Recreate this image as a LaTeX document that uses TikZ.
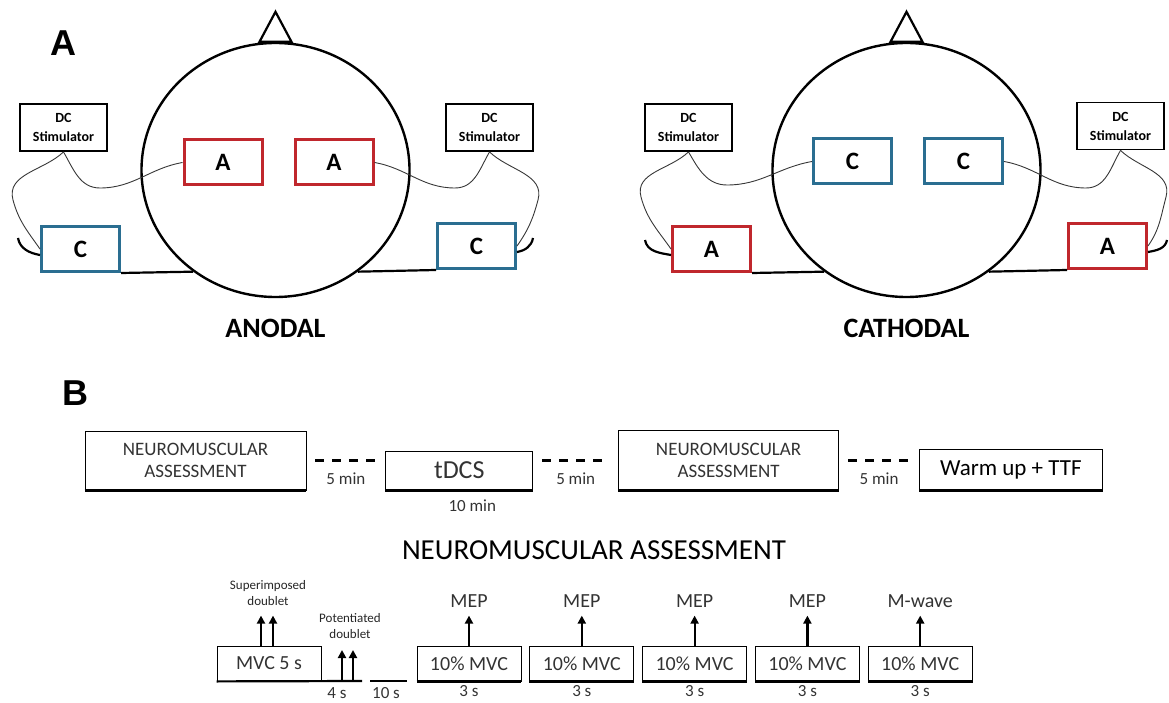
\documentclass[tikz,border=0pt]{standalone}
\usepackage{fontspec}
\setmainfont{Carlito}
\newfontfamily\panelfont{Liberation Sans}
\usepackage{xcolor}
\usepackage{tikz}
\usetikzlibrary{positioning}
\usetikzlibrary{shapes.geometric}
\usetikzlibrary{arrows.meta}

\definecolor{anodered}{RGB}{192,39,45}
\definecolor{cathodeblue}{RGB}{42,110,145}
\definecolor{wiregray}{RGB}{55,55,55}

\tikzset{
  panel/.style={font=\panelfont\bfseries\fontsize{36}{40}\selectfont},
  head/.style={ellipse,draw,line width=2.4pt,minimum width=268pt,minimum height=254pt,inner sep=0pt},
  nose/.style={line width=2.2pt,line join=miter},
  stim/.style={draw,line width=1.8pt,fill=white,minimum width=87pt,minimum height=47pt,align=center,inner sep=1pt,font=\bfseries\fontsize{14}{19}\selectfont},
  anode/.style={draw=anodered,line width=3pt,fill=white,minimum width=78pt,minimum height=45pt,font=\bfseries\fontsize{25}{28}\selectfont},
  cathode/.style={anode,draw=cathodeblue},
  wire/.style={wiregray,line width=0.9pt},
  neck/.style={line width=2.2pt},
  montage/.style={font=\bfseries\fontsize{28}{30}\selectfont},
  phase/.style={draw,line width=0.8pt,align=center,text=black!80,font=\fontsize{19}{22}\selectfont},
  gapline/.style={line width=2.4pt,dash pattern=on 9pt off 8pt,shorten <=9pt,shorten >=10pt},
  gaplabel/.style={font=\fontsize{17}{20}\selectfont,text=black!80},
  trial/.style={draw,line width=0.8pt,minimum width=104pt,minimum height=35pt,inner sep=0pt,text=black!80,font=\fontsize{20}{22}\selectfont},
  trialfont/.style={font=\fontsize{20}{22}\selectfont,text=black!80},
  pulse/.style={line width=2.2pt,-{Triangle[length=8pt,width=8pt]}},
  floorline/.style={line width=2.2pt},
  tinytext/.style={align=center,text=black!85,font=\fontsize{13}{16}\selectfont}
}

\begin{document}
\begin{tikzpicture}[x=1pt,y=1pt]
\useasboundingbox (0,0) rectangle (1169,702);

% A: anodal montage
\node[panel] (lblA) at (63,659) {A};
\node[head] (headL) at (275.5,532) {};
\draw[nose] ([xshift=-16pt]headL.north) -- ([yshift=30pt]headL.north) -- ([xshift=16pt]headL.north) -- cycle;
\node[anode] (aL1) at (223,539.5) {A};
\node[anode,right=30pt of aL1] (aL2) {A};
\node[cathode] (cL1) at (80.5,453) {C};
\node[cathode] (cL2) at (476.5,456) {C};
\node[stim] (dcL1) at (63.5,574.5) {DC\\Stimulator};
\node[stim] (dcL2) at (489.5,574.5) {DC\\Stimulator};
\node[montage] (anodal) at (275.5,374) {ANODAL};
\draw[wire] (dcL1.south) to[out=-60,in=180] (100,514) to[out=0,in=190] (aL1.west);
\draw[wire] (dcL1.south) to[out=-136,in=105] (13,502) to[out=-75,in=125] (cL1.west);
\draw[wire] (aL2.east) to[out=-10,in=180] (455,514) to[out=0,in=-120] (dcL2.south);
\draw[wire] (dcL2.south) to[out=-44,in=75] (538,502) to[out=-105,in=55] (cL2.east);
\draw[neck] (18,464) to[out=-80,in=170] ([yshift=-6pt]cL1.west);
\draw[neck] (533,464) to[out=-100,in=10] ([yshift=-6pt]cL2.east);
\draw[neck] (cL1.south east) -- (headL.231);
\draw[neck] (headL.-51) -- (cL2.south west);

% A: cathodal montage
\node[head] (headR) at (906.5,532) {};
\draw[nose] ([xshift=-16pt]headR.north) -- ([yshift=30pt]headR.north) -- ([xshift=16pt]headR.north) -- cycle;
\node[cathode] (cR1) at (852.5,540.5) {C};
\node[cathode,right=30pt of cR1] (cR2) {C};
\node[anode] (aR1) at (711.5,453) {A};
\node[anode] (aR2) at (1107.5,456) {A};
\node[stim] (dcR1) at (688.5,574.5) {DC\\Stimulator};
\node[stim] (dcR2) at (1120.5,576) {DC\\Stimulator};
\node[montage] (cathodal) at (906.5,374) {CATHODAL};
\draw[wire] (dcR1.south) to[out=-60,in=180] (727,517) to[out=0,in=190] (cR1.west);
\draw[wire] (dcR1.south) to[out=-136,in=105] (641,505) to[out=-75,in=125] (aR1.west);
\draw[wire] (cR2.east) to[out=-10,in=180] (1086,514) to[out=0,in=-120] (dcR2.south);
\draw[wire] (dcR2.south) to[out=-44,in=75] (1166,505) to[out=-105,in=55] (aR2.east);
\draw[neck] (645,462) to[out=-80,in=170] ([yshift=-6pt]aR1.west);
\draw[neck] (1167,462) to[out=-100,in=10] ([yshift=-6pt]aR2.east);
\draw[neck] (aR1.south east) -- (headR.231);
\draw[neck] (headR.-51) -- (aR2.south west);

% B: protocol
\node[panel] (lblB) at (75,309) {B};
\node[phase,minimum width=221pt,minimum height=59pt] (pre) at (195.5,241.5) {NEUROMUSCULAR\\ASSESSMENT};
\node[phase,minimum width=147pt,minimum height=39pt,font=\fontsize{26}{28}\selectfont,right=79pt of pre.south east,anchor=south west] (tdcs) {tDCS};
\node[phase,minimum width=220pt,minimum height=60pt,right=85pt of tdcs.south east,anchor=south west] (post) {NEUROMUSCULAR\\ASSESSMENT};
\node[phase,minimum width=183pt,minimum height=41pt,font=\fontsize{23}{26}\selectfont,text=black,right=80pt of post.south east,anchor=south west] (ttf) {Warm up + TTF};
\draw[floorline] (pre.south west) -- (pre.south east);
\draw[floorline] (tdcs.south west) -- (tdcs.south east);
\draw[floorline] (post.south west) -- (post.south east);
\draw[floorline] (ttf.south west) -- (ttf.south east);
\draw[gapline] (pre.east) -- (pre.east -| tdcs.west) node[midway,below=8pt,gaplabel] {5 min};
\draw[gapline] (pre.east -| tdcs.east) -- (pre.east -| post.west) node[midway,below=8pt,gaplabel] {5 min};
\draw[gapline] (pre.east -| post.east) -- (pre.east -| ttf.west) node[midway,below=8pt,gaplabel] {5 min};
\node[gaplabel,below=6pt of tdcs.south,xshift=13pt] (tdcstime) {10 min};

% neuromuscular assessment sequence
\node[font=\fontsize{29}{32}\selectfont] (seqtitle) at (594,152) {NEUROMUSCULAR ASSESSMENT};
\node[trial] (mvc) at (269,38.5) {MVC 5 s};
\node[trial] (t1) at (469,38.5) {10\% MVC};
\node[trial,right=8pt of t1] (t2) {10\% MVC};
\node[trial,right=8pt of t2] (t3) {10\% MVC};
\node[trial,right=8pt of t3] (t4) {10\% MVC};
\node[trial,right=8pt of t4] (t5) {10\% MVC};
\coordinate (mvcEnd) at (362,21);
\coordinate (restL) at (370,21);
\coordinate (restR) at (407,21);
\coordinate (potA) at (342,21);
\coordinate (potB) at (353,21);
\draw[floorline] (mvc.south west) -- (mvcEnd);
\draw[floorline] (restL) -- (restR);
\draw[floorline] (t1.south west) -- (t1.south east);
\draw[floorline] (t2.south west) -- (t2.south east);
\draw[floorline] (t3.south west) -- (t3.south east);
\draw[floorline] (t4.south west) -- (t4.south east);
\draw[floorline] (t5.south west) -- (t5.south east);
\draw[pulse] ([xshift=-8pt]mvc.north) -- ++(0,30);
\draw[pulse] ([xshift=4pt]mvc.north) -- ++(0,30);
\node[tinytext] (supdoub) at (268,109) {Superimposed\\doublet};
\draw[pulse] (potA) -- ++(0,31);
\draw[pulse] (potB) -- ++(0,31);
\node[tinytext] (potdoub) at (350,75.5) {Potentiated\\doublet};
\draw[pulse] (t1.north) -- ++(0,30) node[above=4pt,trialfont] {MEP};
\draw[pulse] (t2.north) -- ++(0,30) node[above=4pt,trialfont] {MEP};
\draw[pulse] (t3.north) -- ++(0,30) node[above=4pt,trialfont] {MEP};
\draw[pulse] (t4.north) -- ++(0,30) node[above=4pt,trialfont] {MEP};
\draw[pulse] (t5.north) -- ++(0,30) node[above=4pt,trialfont] {M-wave};
\node[gaplabel] (mvcrest) at (337,9) {4 s};
\node[gaplabel] (rest) at (386,9) {10 s};
\node[gaplabel,below=1pt of t1] (d1) {3 s};
\node[gaplabel,below=1pt of t2] (d2) {3 s};
\node[gaplabel,below=1pt of t3] (d3) {3 s};
\node[gaplabel,below=1pt of t4] (d4) {3 s};
\node[gaplabel,below=1pt of t5] (d5) {3 s};
\end{tikzpicture}
\end{document}
